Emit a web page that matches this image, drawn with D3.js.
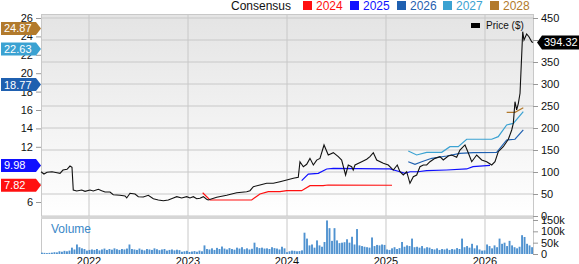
<!DOCTYPE html>
<html>
<head>
<meta charset="utf-8">
<script src="https://cdn.jsdelivr.net/npm/d3@7"></script>
<style>
  body { margin: 0; background: #fff; }
  svg { display: block; font-family: "Liberation Sans", Arial, sans-serif; }
</style>
</head>
<body>
<svg id="chart" width="579" height="264"></svg>
<script>
// price (right axis, $), time in decimal years
const priceT = [2021.515,2021.545,2021.576,2021.626,2021.677,2021.707,2021.737,2021.778,2021.808,2021.828,
  2021.841,2021.876,2021.926,2021.96,2022.01,2022.043,2022.094,2022.128,2022.162,2022.212,
  2022.245,2022.313,2022.364,2022.381,2022.414,2022.465,2022.498,2022.548,2022.599,2022.65,
  2022.7,2022.751,2022.801,2022.852,2022.886,2022.936,2022.987,2023.02,2023.054,2023.088,
  2023.121,2023.155,2023.188,2023.204,2023.29,2023.391,2023.492,2023.593,2023.626,2023.66,
  2023.727,2023.795,2023.862,2023.929,2023.997,2024.064,2024.114,2024.131,2024.165,2024.199,
  2024.232,2024.266,2024.3,2024.333,2024.374,2024.417,2024.468,2024.518,2024.552,2024.592,
  2024.619,2024.653,2024.669,2024.687,2024.755,2024.805,2024.838,2024.872,2024.906,2024.973,
  2025.023,2025.074,2025.114,2025.141,2025.175,2025.209,2025.242,2025.276,2025.31,2025.343,
  2025.377,2025.411,2025.444,2025.495,2025.545,2025.579,2025.629,2025.664,2025.714,2025.747,
  2025.798,2025.831,2025.866,2025.916,2025.967,2026.017,2026.068,2026.101,2026.134,2026.185,
  2026.236,2026.27,2026.286,2026.303,2026.32,2026.337,2026.354,2026.381,2026.394,2026.421,
  2026.444,2026.472,2026.485];
const priceV = [100.7,95.5,99.3,100.7,98.4,97,104.5,106,113.6,110.7,
  59,56.8,59,56,59,56.8,60.7,57.5,54.5,54.5,
  48.4,47,45.5,41,51.6,50,43.9,43.2,47,39.3,
  36.4,34.8,36.4,41,43.9,41,43.9,41,43.9,39.3,
  40.2,43.9,38,36.4,42.5,47,53,55.2,57.5,66.6,
  70.5,74.3,74.3,78,81.8,85.7,88,123.4,112,117.5,
  131,116,127,131,161.4,138.6,143.9,134.8,127.3,93.2,
  115.9,112,104.5,115.9,123.4,128.9,134.8,143.9,127.3,119.8,
  115.9,104.5,115.9,100.7,93.2,100.7,74.3,89.3,93.2,112,
  115.9,115.9,123.4,131,134.8,127.3,136.4,138.6,133.4,150,
  161.4,143.9,123.4,138.6,127.3,123.4,115.9,123.4,146.1,157.5,
  174.3,195.5,210.7,259.8,241,256,278.9,418.9,400,413.6,
  407.5,396,394.32];

// consensus EPS (left axis)
const cons2024T = [2023.148,2023.222,2023.643,2023.727,2023.811,2023.929,2023.997,2024.148,2024.232,2024.364,2024.414,2025.061];
const cons2024V = [7.01,6.22,6.22,6.87,7.12,7.12,7.23,7.23,7.77,7.77,7.85,7.82];
const cons2025T = [2024.148,2024.215,2024.316,2024.401,2024.468,2024.973,2025.04,2025.141,2025.192,2025.242,2025.323,2025.411,2025.613,2025.815,2025.879,2026.051];
const cons2025V = [8.32,9.04,9.12,9.59,9.66,9.59,9.59,9.29,9.12,9.29,9.29,9.40,9.48,9.59,9.84,9.98];
const cons2026T = [2025.225,2025.293,2025.361,2025.462,2025.613,2025.747,2025.882,2026.118,2026.219,2026.303,2026.387];
const cons2026V = [10.38,10.10,10.38,10.75,11.0,11.29,11.36,11.4,12.74,12.82,13.83];
const cons2027T = [2025.225,2025.31,2025.411,2025.563,2025.646,2025.73,2025.815,2026.068,2026.134,2026.219,2026.286,2026.387];
const cons2027V = [11.54,11.11,11.40,11.40,12.01,12.01,12.82,12.82,13.10,14.37,14.55,15.82];
const cons2028T = [2026.219,2026.303,2026.387];
const cons2028V = [15.75,15.75,16.25];

const consYears = ["2024", "2025", "2026", "2027", "2028"];
const consColors = ["#ff1010", "#1010ff", "#1f60b0", "#3ba2d2", "#b27a2c"];
const consLatest = [7.82, 9.98, 18.77, 22.63, 24.87];

// volume (thousands), roughly one bar per week-and-a-half
const volume = [6,5,4,5,6,8,7,12,10,14,12,15,
  28,20,42,30,25, 22,15,18,
  20,18,22,16,20,24,18,22,19,25,21,18,22,20,24, 42,
  22,20,18,24,19,16,22,20,18,25,21,17,20,22,15,18,20,16,19,17,
  10,12,14,9,11,13,10,15,12,38,22,
  20,25,18,27,22,33,24,20,26,22,19,28,24,30,21,25,20,23,
  50,30,26, 28,24,25,22,30,26,24,20,32,25,
  8,12,15,14,12,13,16, 94, 68,38,42, 28,60, 38,32, 53, 148, 114,58, 114,
  60,48,50,52, 65,50,76, 42,110, 38,35,32,30,28, 73,35, 40,38,42,40,
  20,18,25,30,22,26, 53, 32,38,35, 68, 30,32,28,35,25,30,28,
  22,20,25,18,22,20,24,18,22,20,26,22, 68, 30,35,28, 45,25, 38,20, 15,16,
  42,35,25, 38,30, 68, 45,50,35,58, 38,30,25,32, 83,75, 45,38,30];

const yearTicks = [2022, 2023, 2024, 2025, 2026];
const priceTicks = [0, 50, 100, 150, 200, 250, 300, 350, 400, 450];
const epsTicks = [6, 8, 10, 12, 14, 16, 18, 20, 22, 24, 26];
const volTicks = [0, 50, 100, 150];

const svg = d3.select("#chart");
const plotLeft = 41, plotRight = 533, plotTop = 14, mainBottom = 216, volBottom = 254;

const x = d3.scaleLinear().domain([2021.515, 2026.485]).range([plotLeft, plotRight]);
const yPrice = d3.scaleLinear().domain([0, 450]).range([mainBottom, 18]);
const yEps = d3.scaleLinear().domain([6, 26]).range([202, 18]);
const yVol = d3.scaleLinear().domain([0, 150]).range([volBottom, 220]);
const xVol = d3.scaleBand().domain(d3.range(volume.length)).range([plotLeft, plotRight]).paddingInner(0.25);

// background gradient
const grad = svg.append("defs").append("linearGradient")
    .attr("id", "bg").attr("x1", 0).attr("y1", 0).attr("x2", 0).attr("y2", 1);
grad.append("stop").attr("offset", "0%").attr("stop-color", "#e4e4e4");
grad.append("stop").attr("offset", "100%").attr("stop-color", "#ffffff");

svg.append("rect").attr("x", plotLeft).attr("y", plotTop)
    .attr("width", plotRight - plotLeft).attr("height", mainBottom - plotTop)
    .attr("fill", "url(#bg)");

// grid
svg.append("g").selectAll("line").data(priceTicks).join("line")
    .attr("x1", plotLeft).attr("x2", plotRight)
    .attr("y1", d => yPrice(d)).attr("y2", d => yPrice(d))
    .attr("stroke", "#c8c8c8").attr("stroke-width", 1);
svg.append("line").attr("x1", plotLeft).attr("x2", plotRight).attr("y1", plotTop + 0.5).attr("y2", plotTop + 0.5)
    .attr("stroke", "#c8c8c8");
svg.append("g").selectAll("line").data(yearTicks).join("line")
    .attr("x1", d => x(d)).attr("x2", d => x(d))
    .attr("y1", plotTop).attr("y2", volBottom)
    .attr("stroke", "#c8c8c8");
svg.append("line").attr("x1", plotLeft + 0.5).attr("x2", plotLeft + 0.5).attr("y1", plotTop).attr("y2", volBottom)
    .attr("stroke", "#c8c8c8");
svg.append("line").attr("x1", plotRight + 0.5).attr("x2", plotRight + 0.5).attr("y1", plotTop).attr("y2", volBottom)
    .attr("stroke", "#c8c8c8");

// separator between price and volume
svg.append("rect").attr("x", plotLeft).attr("y", mainBottom).attr("width", plotRight - plotLeft).attr("height", 3)
    .attr("fill", "#d6d6d6");

// volume bars
svg.append("g").selectAll("rect").data(volume).join("rect")
    .attr("x", (d, i) => xVol(i))
    .attr("width", Math.max(1, xVol.bandwidth()))
    .attr("y", d => yVol(d))
    .attr("height", d => volBottom - yVol(d))
    .attr("fill", "#4f92d0");

svg.append("text").text("Volume")
    .attr("x", 51).attr("y", 233)
    .attr("font-size", 12).attr("fill", "#3a88c8");

// consensus lines
const epsLine = d3.line().x(d => x(d[0])).y(d => yEps(d[1]));
const consSeries = [
  d3.zip(cons2024T, cons2024V),
  d3.zip(cons2025T, cons2025V),
  d3.zip(cons2026T, cons2026V),
  d3.zip(cons2027T, cons2027V),
  d3.zip(cons2028T, cons2028V)
];
svg.append("g").selectAll("path").data(consSeries).join("path")
    .attr("d", epsLine)
    .attr("fill", "none")
    .attr("stroke", (d, i) => consColors[i])
    .attr("stroke-width", 1.2);

// price line
const priceLine = d3.line().x(d => x(d[0])).y(d => yPrice(d[1]));
svg.append("path").datum(d3.zip(priceT, priceV))
    .attr("d", priceLine)
    .attr("fill", "none").attr("stroke", "#111").attr("stroke-width", 1.1);

// left axis (EPS)
const leftAxis = svg.append("g").attr("transform", `translate(${plotLeft},0)`)
    .call(d3.axisLeft(yEps).tickValues(epsTicks).tickSize(5).tickPadding(3));
leftAxis.select(".domain").remove();
leftAxis.selectAll("line").attr("stroke", "#999");
leftAxis.selectAll("text").attr("font-size", 11).attr("fill", "#111");
leftAxis.attr("font-family", null);

// right axis (price)
const rightAxis = svg.append("g").attr("transform", `translate(${plotRight},0)`)
    .call(d3.axisRight(yPrice).tickValues(priceTicks).tickSize(5).tickPadding(3));
rightAxis.select(".domain").remove();
rightAxis.selectAll("line").attr("stroke", "#999");
rightAxis.selectAll("text").attr("font-size", 11).attr("fill", "#111");
rightAxis.attr("font-family", null);

// right axis (volume)
const volAxis = svg.append("g").attr("transform", `translate(${plotRight},0)`)
    .call(d3.axisRight(yVol).tickValues(volTicks).tickSize(5).tickPadding(3)
        .tickFormat(d => d === 0 ? "0" : d + "k"));
volAxis.select(".domain").remove();
volAxis.selectAll("line").attr("stroke", "#999");
volAxis.selectAll("text").attr("font-size", 11).attr("fill", "#111");
volAxis.attr("font-family", null);

// x axis labels
svg.append("g").selectAll("text").data(yearTicks).join("text")
    .attr("x", d => x(d)).attr("y", 265)
    .attr("text-anchor", "middle").attr("font-size", 11).attr("fill", "#111")
    .text(d3.format("d"));

// left badges for consensus
const badges = svg.append("g").selectAll("g").data(consLatest).join("g")
    .attr("transform", d => `translate(0,${yEps(d)})`);
badges.append("path")
    .attr("d", "M1,-6.5 H36 L41,0 L36,6.5 H1 Z")
    .attr("fill", (d, i) => consColors[i]);
badges.append("text")
    .attr("x", 4).attr("y", 4)
    .attr("font-size", 11).attr("fill", "#fff")
    .text(d => d.toFixed(2));

// right badge for price
const lastPrice = priceV[priceV.length - 1];
const pb = svg.append("g").attr("transform", `translate(0,${yPrice(lastPrice)})`);
pb.append("path").attr("d", "M537,0 L542,-7 H579 V7 H542 Z").attr("fill", "#000");
pb.append("text").attr("x", 544).attr("y", 4).attr("font-size", 11).attr("fill", "#fff")
    .text(lastPrice.toFixed(2));

// top legend
const legend = svg.append("g");
legend.append("text").text("Consensus").attr("x", 231).attr("y", 10)
    .attr("font-size", 12).attr("fill", "#111");
const legX = [303, 350, 397, 443, 490];
const items = legend.selectAll("g.item").data(consYears).join("g")
    .attr("class", "item")
    .attr("transform", (d, i) => `translate(${legX[i]},0)`);
items.append("rect").attr("x", 0).attr("y", 1).attr("width", 9).attr("height", 9)
    .attr("fill", (d, i) => consColors[i]);
items.append("text").attr("x", 13).attr("y", 10).attr("font-size", 12)
    .attr("fill", (d, i) => consColors[i]).text(d => d);

// price legend inside plot
svg.append("rect").attr("x", 471).attr("y", 23).attr("width", 9).attr("height", 5).attr("fill", "#000");
svg.append("text").text("Price ($)").attr("x", 486).attr("y", 29)
    .attr("font-size", 10).attr("fill", "#111");
</script>
</body>
</html>
